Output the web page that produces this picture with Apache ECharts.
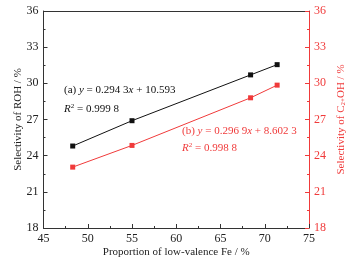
<!DOCTYPE html>
<html>
<head>
<meta charset="utf-8">
<script src="https://cdn.jsdelivr.net/npm/echarts@6/dist/echarts.min.js"></script>
<style>
  html, body { margin: 0; padding: 0; background: #fff; }
  #main { width: 356px; height: 263px; }
</style>
</head>
<body>
<div id="main"></div>
<script>
// data
var feProportion = [48.3, 55.0, 68.4, 71.4];
var rohSelectivity = [24.8, 26.9, 30.7, 31.55];
var c2ohSelectivity = [23.05, 24.85, 28.8, 29.85];
var xTicks = [45, 50, 55, 60, 65, 70, 75];
var yTicks = [18, 21, 24, 27, 30, 33, 36];

var RED = '#f03a3a';
var FONT = '"Liberation Serif", "DejaVu Serif", serif';

function pairs(xs, ys) {
    var out = [];
    for (var i = 0; i < xs.length; i++) out.push([xs[i], ys[i]]);
    return out;
}

var myChart = echarts.init(document.getElementById('main'));

var baseLabel = { fontFamily: FONT, fontSize: 12, color: '#222' };

var option = {
    animation: false,
    grid: { left: 43.5, right: 47, top: 11, bottom: 35, containLabel: false, outerBoundsMode: 'none' },
    xAxis: [{
        type: 'value',
        min: xTicks[0], max: xTicks[xTicks.length - 1], interval: 5,
        name: 'Proportion of low-valence Fe / %',
        nameLocation: 'middle', nameGap: 19, nameMoveOverlap: false,
        nameTextStyle: { fontFamily: FONT, fontSize: 11, color: '#222' },
        axisLine: { lineStyle: { color: '#333', width: 1 } },
        axisTick: { inside: true, length: 4, lineStyle: { color: '#333' } },
        minorTick: { show: true, splitNumber: 2, length: 2, lineStyle: { color: '#333' } },
        axisLabel: Object.assign({ margin: 5 }, baseLabel),
        splitLine: { show: false }
    }, {
        type: 'value', position: 'top',
        min: xTicks[0], max: xTicks[xTicks.length - 1],
        axisLine: { show: true, lineStyle: { color: '#333', width: 1 } },
        axisTick: { show: false }, axisLabel: { show: false }, splitLine: { show: false }
    }],
    yAxis: [{
        type: 'value',
        min: yTicks[0], max: yTicks[yTicks.length - 1], interval: 3,
        name: 'Selectivity of ROH / %',
        nameLocation: 'middle', nameGap: 19.5, nameRotate: 90, nameMoveOverlap: false,
        nameTextStyle: { fontFamily: FONT, fontSize: 11, color: '#222' },
        axisLine: { show: true, lineStyle: { color: '#333', width: 1 } },
        axisTick: { inside: true, length: 4, lineStyle: { color: '#333' } },
        minorTick: { show: true, splitNumber: 2, length: 2, lineStyle: { color: '#333' } },
        axisLabel: Object.assign({ margin: 5 }, baseLabel),
        splitLine: { show: false }
    }, {
        type: 'value', position: 'right',
        min: yTicks[0], max: yTicks[yTicks.length - 1], interval: 3,
        name: '{n|Selectivity of C}{s|2+}{n|OH / %}',
        nameLocation: 'middle', nameGap: 27, nameRotate: 90, nameMoveOverlap: false,
        nameTextStyle: {
            fontFamily: FONT, fontSize: 11, color: RED,
            rich: {
                n: { fontFamily: FONT, fontSize: 11, color: RED },
                s: { fontFamily: FONT, fontSize: 7, color: RED, verticalAlign: 'bottom', padding: [4, 0, 0, 0] }
            }
        },
        axisLine: { show: true, lineStyle: { color: RED, width: 1 } },
        axisTick: { inside: true, length: 4, lineStyle: { color: RED } },
        minorTick: { show: true, splitNumber: 2, length: 2, lineStyle: { color: RED } },
        axisLabel: { margin: 5, fontFamily: FONT, fontSize: 12, color: RED },
        splitLine: { show: false }
    }],
    graphic: [{
        type: 'text', left: 64, top: 85,
        style: {
            text: '{n|(a) }{i|y}{n| = 0.294 3}{i|x}{n| + 10.593}',
            rich: {
                n: { fontFamily: FONT, fontSize: 11, fill: '#111' },
                i: { fontFamily: FONT, fontSize: 11, fontStyle: 'italic', fill: '#111' }
            }
        }
    }, {
        type: 'text', left: 64, top: 103,
        style: {
            text: '{i|R}{p|2}{n| = 0.999 8}',
            rich: {
                n: { fontFamily: FONT, fontSize: 11, fill: '#111' },
                i: { fontFamily: FONT, fontSize: 11, fontStyle: 'italic', fill: '#111' },
                p: { fontFamily: FONT, fontSize: 7, fill: '#111', verticalAlign: 'top', padding: [0, 0, 5, 0] }
            }
        }
    }, {
        type: 'text', left: 182, top: 126,
        style: {
            text: '{n|(b) }{i|y}{n| = 0.296 9}{i|x}{n| + 8.602 3}',
            rich: {
                n: { fontFamily: FONT, fontSize: 11, fill: RED },
                i: { fontFamily: FONT, fontSize: 11, fontStyle: 'italic', fill: RED }
            }
        }
    }, {
        type: 'text', left: 182, top: 142,
        style: {
            text: '{i|R}{p|2}{n| = 0.998 8}',
            rich: {
                n: { fontFamily: FONT, fontSize: 11, fill: RED },
                i: { fontFamily: FONT, fontSize: 11, fontStyle: 'italic', fill: RED },
                p: { fontFamily: FONT, fontSize: 7, fill: RED, verticalAlign: 'top', padding: [0, 0, 5, 0] }
            }
        }
    }],
    series: [{
        name: 'ROH',
        type: 'line',
        xAxisIndex: 0, yAxisIndex: 0,
        data: pairs(feProportion, rohSelectivity),
        symbol: 'rect', symbolSize: 5,
        itemStyle: { color: '#111' },
        lineStyle: { color: '#111', width: 1 }
    }, {
        name: 'C2+OH',
        type: 'line',
        xAxisIndex: 0, yAxisIndex: 1,
        data: pairs(feProportion, c2ohSelectivity),
        symbol: 'rect', symbolSize: 5,
        itemStyle: { color: RED },
        lineStyle: { color: RED, width: 1 }
    }]
};
myChart.setOption(option);
</script>
</body>
</html>
